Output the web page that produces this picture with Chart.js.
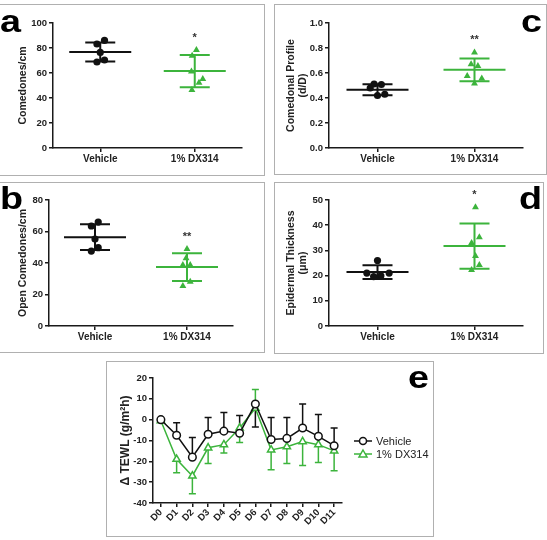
<!DOCTYPE html>
<html><head><meta charset="utf-8">
<script src="https://cdn.jsdelivr.net/npm/chart.js@4.4.1/dist/chart.umd.min.js"></script>
<style>
html,body{margin:0;padding:0;background:#fff;}
body{width:547px;height:540px;position:relative;overflow:hidden;font-family:"Liberation Sans",Arial,sans-serif;}
.box{position:absolute;border:1.5px solid #b0b0b0;box-sizing:border-box;}
canvas{position:absolute;}
.letter{position:absolute;font-weight:bold;font-size:32px;line-height:32px;color:#000;transform:scaleX(1.18);transform-origin:left top;}
.leg{position:absolute;font-size:11px;color:#222;display:flex;align-items:center;white-space:nowrap;}
.leg svg{margin-right:4px;}
</style></head>
<body>
<div class="box" style="left:-2px;top:4px;width:267px;height:172px"></div>
<div class="box" style="left:274px;top:4px;width:273px;height:171px"></div>
<div class="box" style="left:-2px;top:182px;width:267px;height:171px"></div>
<div class="box" style="left:274px;top:182px;width:270px;height:172px"></div>
<div class="box" style="left:106px;top:361px;width:328px;height:176px"></div>

<canvas id="ca" width="264" height="171" style="left:0;top:4px"></canvas>
<canvas id="cc" width="272" height="170" style="left:274px;top:4px"></canvas>
<canvas id="cb" width="264" height="170" style="left:0;top:182px"></canvas>
<canvas id="cd" width="269" height="171" style="left:274px;top:182px"></canvas>
<canvas id="ce" width="327" height="175" style="left:106px;top:361px"></canvas>

<div class="letter" style="left:0px;top:5px">a</div>
<div class="letter" style="left:521px;top:5px">c</div>
<div class="letter" style="left:0px;top:182px">b</div>
<div class="letter" style="left:519px;top:182px">d</div>
<div class="letter" style="left:408px;top:361px">e</div>

<div class="leg" style="left:354px;top:435px">
<svg width="18" height="12"><line x1="0" y1="6" x2="18" y2="6" stroke="#111" stroke-width="1.5"/><circle cx="9" cy="6" r="3.5" fill="#fff" stroke="#111" stroke-width="1.5"/></svg><span>Vehicle</span></div>
<div class="leg" style="left:354px;top:448px">
<svg width="18" height="12"><line x1="0" y1="6" x2="18" y2="6" stroke="#3cb43c" stroke-width="1.5"/><polygon points="9,2 13,9 5,9" fill="#fff" stroke="#3cb43c" stroke-width="1.5"/></svg><span>1% DX314</span></div>

<script>
// ---------- data ----------
const groups = ['Vehicle', '1% DX314'];

// panel a : Comedones/cm
const aVehicle = [86.1, 83.2, 76.5, 70.4, 68.8];
const aDX314   = [78.4, 73.9, 61.3, 55.2, 52.3, 46.4];
const aMean    = [76.8, 61.6];
const aSD      = [7.6, 12.9];
const aStars   = ['', '*'];

// panel b : Open Comedones/cm
const bVehicle = [66, 63.5, 55.2, 49.7, 47.6];
const bDX314   = [48.9, 43, 38.7, 38.7, 28.1, 25.4];
const bMean    = [56.4, 37.4];
const bSD      = [8.2, 8.8];
const bStars   = ['', '**'];

// panel c : Comedonal Profile (d/D)
const cVehicle = [0.512, 0.508, 0.48, 0.43, 0.42];
const cDX314   = [0.765, 0.67, 0.656, 0.576, 0.557, 0.517];
const cMean    = [0.467, 0.626];
const cSD      = [0.044, 0.091];
const cStars   = ['', '**'];

// panel d : Epidermal Thickness (µm)
const dVehicle = [26, 21, 21, 19.6, 19.9];
const dDX314   = [47.1, 35.2, 32.9, 27.8, 24.2, 22.2];
const dMean    = [21.4, 31.7];
const dSD      = [2.7, 9];
const dStars   = ['', '*'];

// scatter spread of the dots around each group (x units)
const aJitV = [0.09, -0.07, 0, 0.09, -0.07];
const aJitD = [0.035, -0.055, -0.07, 0.17, 0.09, -0.06];
const bJitV = [0.07, -0.08, 0, 0.07, -0.08];
const bJitD = [0, -0.02, -0.09, 0.07, 0.07, -0.09];
const cJitV = [-0.07, 0.08, -0.15, 0.15, 0];
const cJitD = [0, -0.07, 0.07, -0.15, 0.15, 0];
const dJitV = [0, -0.22, 0.24, -0.08, 0.07];
const dJitD = [0.02, 0.1, -0.06, 0.02, 0.1, -0.06];

// panel e : delta TEWL
const days = ['D0','D1','D2','D3','D4','D5','D6','D7','D8','D9','D10','D11'];
const eVehicle    = [0, -7.5, -18, -7, -5.5, -6.5, 7.5, -9.5, -9, -4, -8, -12.5];
const eVehicleErr = [null, -1.5, -8.5, 1, 3.5, 2, -3.5, 1, 1, 7.5, 2.5, -4];
const eDX314      = [-0.5, -19, -27, -13.5, -12, -4, 5.5, -14.5, -13, -10.5, -12, -15];
const eDX314Err   = [null, -25.5, -35.5, -21, -16, -11, 14.5, -24, -21, -22, -20.5, -24.5];

// ---------- styles ----------
const BLACK = '#111111';
const GREEN = '#3cb43c';
const AXIS = '#1a1a1a';
const FONT = '"Liberation Sans", Arial, sans-serif';
const groupPos = [1, 3];

const summaryPlugin = {
  id: 'summary',
  afterDatasetsDraw(chart, args, o) {
    if (!o || !o.means) return;
    const {ctx} = chart; const x = chart.scales.x, y = chart.scales.y;
    o.means.forEach((m, i) => {
      const cx = x.getPixelForValue(groupPos[i]);
      const ym = y.getPixelForValue(m), yh = y.getPixelForValue(m + o.sds[i]), yl = y.getPixelForValue(m - o.sds[i]);
      ctx.save();
      ctx.strokeStyle = o.colors[i]; ctx.lineWidth = 2;
      ctx.beginPath();
      ctx.moveTo(cx - 31, ym); ctx.lineTo(cx + 31, ym);
      ctx.moveTo(cx - 15, yh); ctx.lineTo(cx + 15, yh);
      ctx.moveTo(cx - 15, yl); ctx.lineTo(cx + 15, yl);
      ctx.moveTo(cx, yh); ctx.lineTo(cx, yl);
      ctx.stroke();
      if (o.stars[i]) {
        const top = y.getPixelForValue(Math.max(...chart.data.datasets[i].data.map(p => p.y)));
        ctx.fillStyle = '#333'; ctx.font = 'bold 11px ' + FONT;
        ctx.textAlign = 'center'; ctx.textBaseline = 'middle';
        ctx.fillText(o.stars[i], cx, top - 12);
      }
      ctx.restore();
    });
  }
};

const errPlugin = {
  id: 'errbars',
  beforeDatasetsDraw(chart, args, o) {
    if (!o || !o.ends) return;
    const {ctx} = chart; const x = chart.scales.x, y = chart.scales.y;
    o.ends.forEach((ends, di) => {
      const vals = chart.data.datasets[di].data;
      ctx.save(); ctx.strokeStyle = o.colors[di]; ctx.lineWidth = 1.5;
      ends.forEach((e, j) => {
        if (e === null) return;
        const cx = x.getPixelForValue(j);
        const y0 = y.getPixelForValue(vals[j]), y1 = y.getPixelForValue(e);
        ctx.beginPath();
        ctx.moveTo(cx, y0); ctx.lineTo(cx, y1);
        ctx.moveTo(cx - 3.5, y1); ctx.lineTo(cx + 3.5, y1);
        ctx.stroke();
      });
      ctx.restore();
    });
  }
};
Chart.register(summaryPlugin, errPlugin);

function axisGrid() {
  return {drawOnChartArea: false, drawTicks: true, tickLength: 4, color: AXIS, lineWidth: 1.5};
}

function dotPlot(id, vals, jits, mean, sd, stars, yMax, yStep, title, geo, decimals) {
  new Chart(document.getElementById(id), {
    type: 'scatter',
    data: {datasets: [
      {data: vals[0].map((v, k) => ({x: groupPos[0] + jits[0][k], y: v})), pointStyle: 'circle', pointRadius: 3.6, backgroundColor: BLACK, borderColor: BLACK, borderWidth: 0},
      {data: vals[1].map((v, k) => ({x: groupPos[1] + jits[1][k], y: v})), pointStyle: 'triangle', pointRadius: 4, backgroundColor: GREEN, borderColor: GREEN, borderWidth: 0}
    ]},
    options: {
      responsive: false, animation: false, events: [],
      layout: {padding: {left: 0, top: geo.top, right: geo.right, bottom: 0}},
      plugins: {legend: {display: false}, tooltip: {enabled: false},
        summary: {means: mean, sds: sd, stars: stars, colors: [BLACK, GREEN]}},
      scales: {
        x: {type: 'linear', min: 0, max: 4,
          afterBuildTicks: s => { s.ticks = groupPos.map(v => ({value: v})); },
          afterFit: s => { s.height = geo.xh; },
          ticks: {callback: v => groups[groupPos.indexOf(v)], font: {family: FONT, size: 10, weight: 'bold'}, color: '#222', maxRotation: 0, autoSkip: false, padding: 1},
          grid: axisGrid(), border: {color: AXIS, width: 1.5}},
        y: {min: 0, max: yMax,
          afterFit: s => { s.width = geo.yw; },
          ticks: {stepSize: yStep, font: {family: FONT, size: 9.5, weight: 'bold'}, color: '#222', padding: 2,
            callback: v => decimals ? v.toFixed(1) : v},
          grid: axisGrid(), border: {color: AXIS, width: 1.5},
          title: {display: true, text: title, color: '#222', font: {family: FONT, size: 10.5, weight: 'bold', lineHeight: 1.15}, padding: {top: geo.tp, bottom: 0}}}
      }
    }
  });
}

dotPlot('ca', [aVehicle, aDX314], [aJitV, aJitD], aMean, aSD, aStars, 100, 20, 'Comedones/cm', {top: 19, right: 22, xh: 27, yw: 53, tp: 17}, false);
dotPlot('cc', [cVehicle, cDX314], [cJitV, cJitD], cMean, cSD, cStars, 1.0, 0.2, ['Comedonal Profile', '(d/D)'], {top: 19, right: 23, xh: 26, yw: 55, tp: 11}, true);
dotPlot('cb', [bVehicle, bDX314], [bJitV, bJitD], bMean, bSD, bStars, 80, 20, 'Open Comedones/cm', {top: 18, right: 31, xh: 26, yw: 49, tp: 17}, false);
dotPlot('cd', [dVehicle, dDX314], [dJitV, dJitD], dMean, dSD, dStars, 50, 10, ['Epidermal Thickness', '(\u03bcm)'], {top: 18, right: 20, xh: 27, yw: 55, tp: 11}, false);

new Chart(document.getElementById('ce'), {
  type: 'line',
  data: {labels: days, datasets: [
    {label: 'Vehicle', data: eVehicle, borderColor: BLACK, borderWidth: 1.5, pointStyle: 'circle', pointRadius: 3.8, pointBorderWidth: 1.5, pointBackgroundColor: '#fff', pointBorderColor: BLACK, tension: 0},
    {label: '1% DX314', data: eDX314, borderColor: GREEN, borderWidth: 1.5, pointStyle: 'triangle', pointRadius: 4.2, pointBorderWidth: 1.5, pointBackgroundColor: '#fff', pointBorderColor: GREEN, tension: 0}
  ]},
  options: {
    responsive: false, animation: false, events: [],
    layout: {padding: {left: 0, top: 17, right: 91, bottom: 0}},
    plugins: {legend: {display: false}, tooltip: {enabled: false},
      errbars: {ends: [eVehicleErr, eDX314Err], colors: [BLACK, GREEN]}},
    scales: {
      x: {type: 'category', offset: true,
        afterFit: s => { s.height = 33; },
        ticks: {font: {family: FONT, size: 9.5, weight: 'bold'}, color: '#222', minRotation: 45, maxRotation: 45, autoSkip: false, padding: 0},
        grid: axisGrid(), border: {color: AXIS, width: 1.5}},
      y: {min: -40, max: 20,
        afterFit: s => { s.width = 47; },
        ticks: {stepSize: 10, font: {family: FONT, size: 9.5, weight: 'bold'}, color: '#222', padding: 2},
        grid: axisGrid(), border: {color: AXIS, width: 1.5},
        title: {display: true, text: '\u0394 TEWL (g/m\u00b2h)', color: '#222', font: {family: FONT, size: 12, weight: 'bold'}, padding: {top: 12, bottom: 0}}}
    }
  }
});
</script>
</body></html>
